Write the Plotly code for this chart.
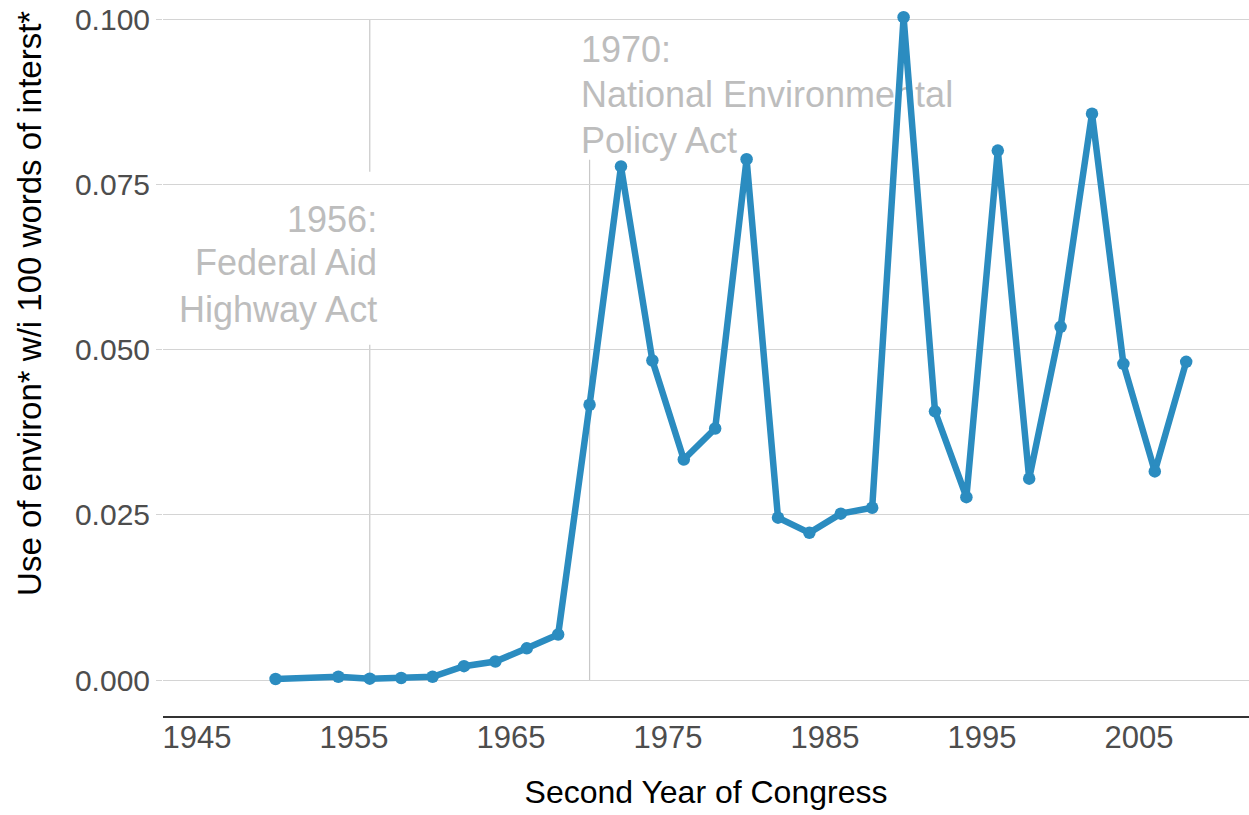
import plotly.graph_objects as go

years = [1950, 1954, 1956, 1958, 1960, 1962, 1964, 1966, 1968, 1970, 1972, 1974, 1976,
         1978, 1980, 1982, 1984, 1986, 1988, 1990, 1992, 1994, 1996, 1998, 2000, 2002,
         2004, 2006, 2008]
usage = [0.00015, 0.0005, 0.0002, 0.0003, 0.0005, 0.0021, 0.0028, 0.0048, 0.0069, 0.0417,
         0.0778, 0.0484, 0.0334, 0.0381, 0.0789, 0.0246, 0.0223, 0.0252, 0.0261, 0.1004,
         0.0407, 0.0277, 0.0802, 0.0305, 0.0535, 0.0858, 0.0479, 0.0316, 0.0482]

x_ticks = [1945, 1955, 1965, 1975, 1985, 1995, 2005]
y_ticks = [0.0, 0.025, 0.05, 0.075, 0.1]
y_tick_labels = ["0.000", "0.025", "0.050", "0.075", "0.100"]

event_years = [1956, 1970]
event_1956_lines = ["1956:", "Federal Aid", "Highway Act"]
event_1956_y = [0.0692, 0.0627, 0.0556]
event_1970_lines = ["1970:", "National Environmental", "Policy Act"]
event_1970_y = [0.0950, 0.0882, 0.0812]

LINE_COLOR = "#2b8cc0"
ANNOT_COLOR = "#bdbdbd"
FONT = "Liberation Sans, Arial, Helvetica, sans-serif"

fig = go.Figure()

ref_color = "#c8c8c8"
shapes = [
    dict(type="line", xref="x", yref="y", x0=event_years[0], x1=event_years[0], y0=0.1, y1=0.077,
         line=dict(color=ref_color, width=1.2), layer="below"),
    dict(type="line", xref="x", yref="y", x0=event_years[0], x1=event_years[0], y0=0.0508, y1=0.0,
         line=dict(color=ref_color, width=1.2), layer="below"),
    dict(type="line", xref="x", yref="y", x0=event_years[1], x1=event_years[1], y0=0.0788, y1=0.0,
         line=dict(color=ref_color, width=1.2), layer="below"),
]

# event labels as text traces drawn beneath the data line
fig.add_trace(go.Scatter(
    x=[event_years[0] + 0.47] * len(event_1956_lines), y=event_1956_y,
    text=event_1956_lines, mode="text", textposition="middle left",
    textfont=dict(family=FONT, size=36, color=ANNOT_COLOR),
    hoverinfo="skip", showlegend=False,
))
fig.add_trace(go.Scatter(
    x=[event_years[1] - 0.55] * len(event_1970_lines), y=event_1970_y,
    text=event_1970_lines, mode="text", textposition="middle right",
    textfont=dict(family=FONT, size=36, color=ANNOT_COLOR),
    hoverinfo="skip", showlegend=False,
))

fig.add_trace(go.Scatter(
    x=years, y=usage, mode="lines+markers",
    line=dict(color=LINE_COLOR, width=6.5),
    marker=dict(color=LINE_COLOR, size=12.5),
    hoverinfo="x+y", showlegend=False,
))

annotations = [
    dict(text="Use of environ* w/i 100 words of interst*", xref="paper", yref="paper",
         x=-0.1225, y=0.585, xanchor="center", yanchor="middle", textangle=-90,
         showarrow=False, font=dict(family=FONT, size=33, color="black")),
]

fig.update_layout(
    width=1249, height=815,
    margin=dict(l=163, r=0, t=10, b=99),
    plot_bgcolor="white", paper_bgcolor="white",
    shapes=shapes, annotations=annotations,
    font=dict(family=FONT),
    xaxis=dict(
        range=[1942.83, 2012.0],
        tickvals=x_ticks,
        ticktext=[str(t) for t in x_ticks],
        showgrid=False, zeroline=False, automargin=False,
        showline=True, linecolor="#333333", linewidth=1.5,
        ticks="", ticklabelstandoff=-7, tickfont=dict(size=31, color="#4d4d4d"),
        title=dict(text="Second Year of Congress", font=dict(size=32, color="black"), standoff=27),
    ),
    yaxis=dict(
        range=[-0.00545, 0.1015],
        tickvals=y_ticks, ticktext=y_tick_labels,
        showgrid=True, gridcolor="#d4d4d4", gridwidth=1.2,
        zeroline=False, showline=False, automargin=False,
        ticks="outside", ticklen=6, tickcolor="#d4d4d4",
        ticklabeloverflow="allow",
        tickfont=dict(size=30, color="#4d4d4d"),
    ),
)

fig.write_html(
    "out.html",
    config={"displayModeBar": False},
    post_script="document.body.style.margin='0';document.body.style.overflow='hidden';",
)
